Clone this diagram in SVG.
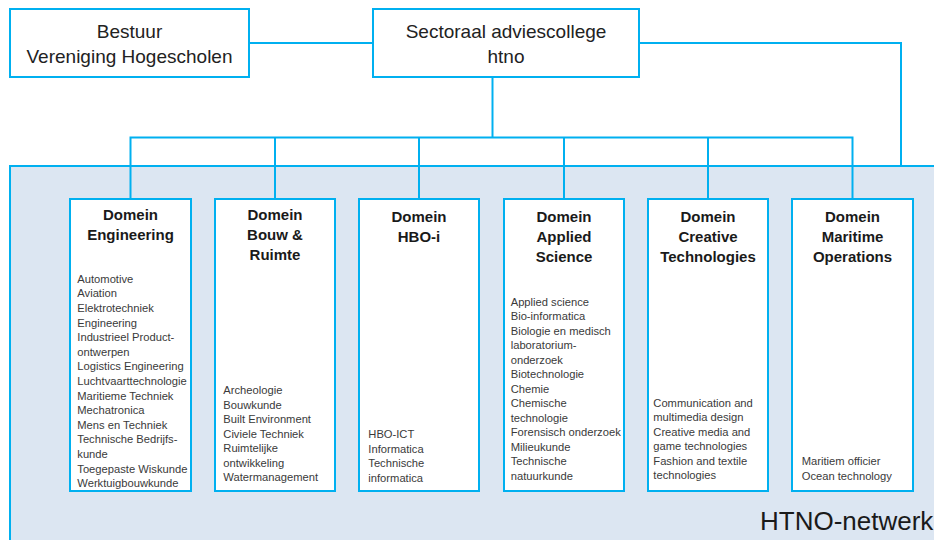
<svg xmlns="http://www.w3.org/2000/svg" width="934" height="540" viewBox="0 0 934 540">
<style>
.box{fill:#fff;stroke:#00b0f0;stroke-width:2}
.conn{fill:none;stroke:#00b0f0;stroke-width:2}
.top{font-family:"Liberation Sans",Arial,sans-serif;font-size:19px;fill:#222;text-anchor:middle}
.title{font-family:"Liberation Sans",Arial,sans-serif;font-size:15px;font-weight:bold;fill:#1a1a1a;text-anchor:middle}
.item{font-family:"Liberation Sans",Arial,sans-serif;font-size:11.2px;fill:#3a3a3a}
.net{font-family:"Liberation Sans",Arial,sans-serif;font-size:26px;fill:#1a1a1a}
</style>
<rect id="network" x="10" y="166" width="940" height="390" fill="#dce6f2" stroke="#00b0f0" stroke-width="2"/>
<g id="connectors">
<path class="conn" d="M249 43H373"/>
<path class="conn" d="M639 43H901V166"/>
<path class="conn" d="M492.5 77V137.5"/>
<path class="conn" d="M130.5 199V137.5H852.5V199"/>
<path class="conn" d="M275 137.5V199M419 137.5V199M564 137.5V199M708 137.5V199"/>
</g>
<g id="bestuur">
<rect class="box" x="10" y="9" width="239" height="68"/>
<text class="top" x="129.5" y="37.5">Bestuur</text>
<text class="top" x="129.5" y="62.5">Vereniging Hogescholen</text>
</g>
<g id="sectoraal">
<rect class="box" x="373" y="9" width="266" height="68"/>
<text class="top" x="506" y="37.5">Sectoraal adviescollege</text>
<text class="top" x="506" y="62.5">htno</text>
</g>
<g id="engineering">
<rect class="box" x="70" y="199" width="121" height="292"/>
<text class="title" x="130.5" y="220">Domein<tspan x="130.5" dy="20">Engineering</tspan></text>
<text class="item" x="77.3" y="282.7">Automotive<tspan x="77.3" dy="14.6">Aviation</tspan><tspan x="77.3" dy="14.6">Elektrotechniek</tspan><tspan x="77.3" dy="14.6">Engineering</tspan><tspan x="77.3" dy="14.6">Industrieel Product-</tspan><tspan x="77.3" dy="14.6">ontwerpen</tspan><tspan x="77.3" dy="14.6">Logistics Engineering</tspan><tspan x="77.3" dy="14.6">Luchtvaarttechnologie</tspan><tspan x="77.3" dy="14.6">Maritieme Techniek</tspan><tspan x="77.3" dy="14.6">Mechatronica</tspan><tspan x="77.3" dy="14.6">Mens en Techniek</tspan><tspan x="77.3" dy="14.6">Technische Bedrijfs-</tspan><tspan x="77.3" dy="14.6">kunde</tspan><tspan x="77.3" dy="14.6">Toegepaste Wiskunde</tspan><tspan x="77.3" dy="14.6">Werktuigbouwkunde</tspan></text>
</g>
<g id="bouw">
<rect class="box" x="215" y="199" width="120" height="292"/>
<text class="title" x="275" y="220">Domein<tspan x="275" dy="20">Bouw &amp;</tspan><tspan x="275" dy="20">Ruimte</tspan></text>
<text class="item" x="223.3" y="394">Archeologie<tspan x="223.3" dy="14.5">Bouwkunde</tspan><tspan x="223.3" dy="14.5">Built Environment</tspan><tspan x="223.3" dy="14.5">Civiele Techniek</tspan><tspan x="223.3" dy="14.5">Ruimtelijke</tspan><tspan x="223.3" dy="14.5">ontwikkeling</tspan><tspan x="223.3" dy="14.5">Watermanagement</tspan></text>
</g>
<g id="hboi">
<rect class="box" x="359" y="199" width="120" height="292"/>
<text class="title" x="419" y="221.5">Domein<tspan x="419" dy="20">HBO-i</tspan></text>
<text class="item" x="368.3" y="438.3">HBO-ICT<tspan x="368.3" dy="14.5">Informatica</tspan><tspan x="368.3" dy="14.5">Technische</tspan><tspan x="368.3" dy="14.5">informatica</tspan></text>
</g>
<g id="applied">
<rect class="box" x="504" y="199" width="120" height="292"/>
<text class="title" x="564" y="221.5">Domein<tspan x="564" dy="20">Applied</tspan><tspan x="564" dy="20">Science</tspan></text>
<text class="item" x="510.7" y="305.7">Applied science<tspan x="510.7" dy="14.5">Bio-informatica</tspan><tspan x="510.7" dy="14.5">Biologie en medisch</tspan><tspan x="510.7" dy="14.5">laboratorium-</tspan><tspan x="510.7" dy="14.5">onderzoek</tspan><tspan x="510.7" dy="14.5">Biotechnologie</tspan><tspan x="510.7" dy="14.5">Chemie</tspan><tspan x="510.7" dy="14.5">Chemische</tspan><tspan x="510.7" dy="14.5">technologie</tspan><tspan x="510.7" dy="14.5">Forensisch onderzoek</tspan><tspan x="510.7" dy="14.5">Milieukunde</tspan><tspan x="510.7" dy="14.5">Technische</tspan><tspan x="510.7" dy="14.5">natuurkunde</tspan></text>
</g>
<g id="creative">
<rect class="box" x="648" y="199" width="120" height="292"/>
<text class="title" x="708" y="221.5">Domein<tspan x="708" dy="20">Creative</tspan><tspan x="708" dy="20">Technologies</tspan></text>
<text class="item" x="653.3" y="406.7">Communication and<tspan x="653.3" dy="14.5">multimedia design</tspan><tspan x="653.3" dy="14.5">Creative media and</tspan><tspan x="653.3" dy="14.5">game technologies</tspan><tspan x="653.3" dy="14.5">Fashion and textile</tspan><tspan x="653.3" dy="14.5">technologies</tspan></text>
</g>
<g id="maritime">
<rect class="box" x="792" y="199" width="121" height="292"/>
<text class="title" x="852.5" y="221.5">Domein<tspan x="852.5" dy="20">Maritime</tspan><tspan x="852.5" dy="20">Operations</tspan></text>
<text class="item" x="801.7" y="465.3">Maritiem officier<tspan x="801.7" dy="14.5">Ocean technology</tspan></text>
</g>
<text class="net" x="760" y="530">HTNO-netwerk</text>
</svg>
